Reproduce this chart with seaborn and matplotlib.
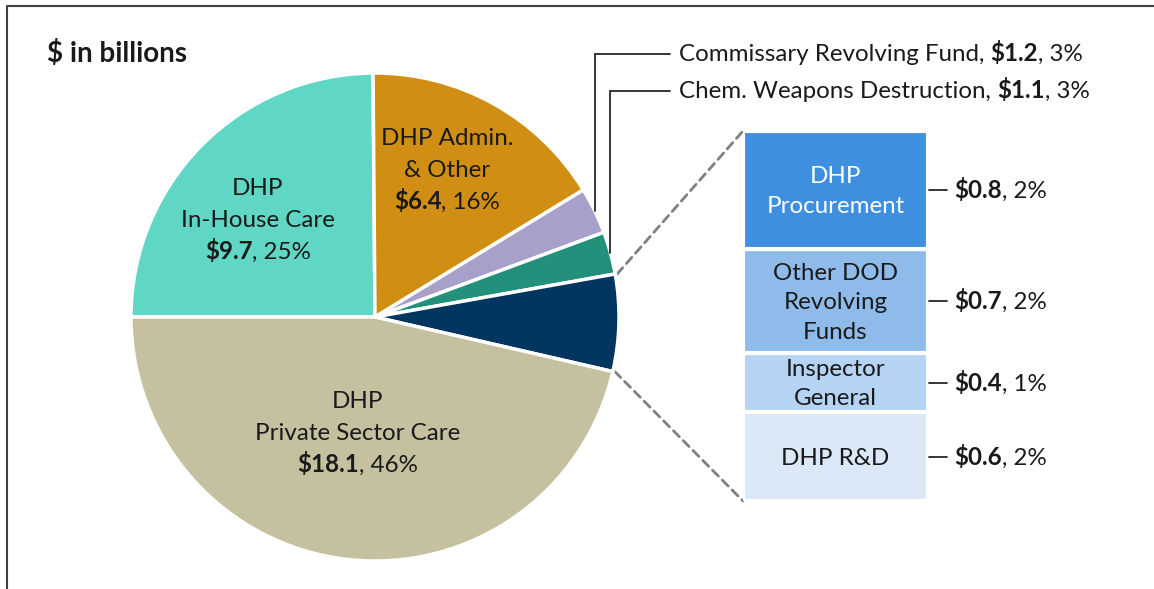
import numpy as np
import matplotlib
matplotlib.use("Agg")
import matplotlib.pyplot as plt
from matplotlib.patches import ConnectionPatch
import seaborn as sns

# Veriler ($ milyar)
pie_names = ['DHP\nIn-House Care', 'DHP Admin.\n& Other', 'Commissary Revolving Fund',
             'Chem. Weapons Destruction', 'Other', 'DHP\nPrivate Sector Care']
sub_names = ['DHP\nProcurement', 'Other DOD\nRevolving\nFunds', 'Inspector\nGeneral', 'DHP R&D']
sub_values = [0.8, 0.7, 0.4, 0.6]
pie_values = [9.7, 6.4, 1.2, 1.1, round(sum(sub_values), 1), 18.1]
total = sum(pie_values)

pie_colors = ['#60d7c5', '#d08f12', '#a89fca', '#22907b', '#02355f', '#c4c0a0']
sub_colors = ['#3f8fe0', '#8fbbeb', '#b5d3f3', '#dae8f8']
sub_text_colors = ['white', '#1a1a1a', '#1a1a1a', '#1a1a1a']

sns.set_style("white")
plt.rcParams['font.family'] = ['Lato', 'DejaVu Sans']
FS = 17.4
TXT = '#1a1a1a'

W, H = 1154, 589
fig = plt.figure(figsize=(W / 100, H / 100), dpi=100)
ax = fig.add_axes([0, 0, 1, 1])
ax.set_zorder(2)

# Pasta grafiği (y ekseni ters: açı arttıkça saat yönünde)
cx, cy, R = 375, 317, 244
wedges, _ = ax.pie(pie_values, colors=pie_colors, startangle=180, counterclock=True,
                   center=(cx, cy), radius=R,
                   wedgeprops=dict(edgecolor='white', linewidth=2.5))
ax.set_xlim(0, W)
ax.set_ylim(H, 0)
ax.set_aspect('equal')
ax.axis('off')

# Yığılmış çubuk (alt kırılım)
ax2 = fig.add_axes([743 / W, (H - 501) / H, 185 / W, 370 / H])
ax2.set_zorder(1)
bottoms = np.cumsum([0] + sub_values[::-1][:-1])
for v, b, c in zip(sub_values[::-1], bottoms, sub_colors[::-1]):
    ax2.bar(0, v, bottom=b, width=1, color=c, edgecolor='white', linewidth=3)
ax2.set_xlim(-0.5, 0.5)
ax2.set_ylim(0, sum(sub_values))
ax2.axis('off')

fig.canvas.draw()
rend = fig.canvas.get_renderer()


def to_main(a, xy):
    return ax.transData.inverted().transform(a.transData.transform(xy))


def value_line(x, y, val, pct, ha='center', color=TXT):
    # y = satırın taban çizgisi
    t1 = ax.text(x, y, f'${val:.1f}', fontsize=FS, fontweight='bold', color=color,
                 ha='left', va='baseline')
    t2 = ax.text(x, y, f', {pct:.0f}%', fontsize=FS, color=color, ha='left', va='baseline')
    w1 = t1.get_window_extent(rend).width
    w2 = t2.get_window_extent(rend).width
    x0 = x - (w1 + w2) / 2 if ha == 'center' else x
    t1.set_x(x0)
    t2.set_x(x0 + w1)


def block(x, yc, lines, gap, color=TXT):
    # yc = bloğun ortası; her satırın taban çizgisi hesaplanır
    n = len(lines)
    for i, s in enumerate(lines):
        y = yc + (i - (n - 1) / 2) * gap + 8
        ax.text(x, y, s, fontsize=FS, color=color, ha='center', va='baseline')


# Pasta etiketleri (isim satırları + değer satırı)
GAP = 32
for i, (xc, yc) in {0: (258, 219), 1: (447, 169), 5: (358, 432)}.items():
    lines = pie_names[i].split('\n')
    n = len(lines) + 1
    block(xc, yc - GAP / 2, lines, GAP)
    value_line(xc, yc + (n - 1) / 2 * GAP + 8, pie_values[i], 100 * pie_values[i] / total)

# Küçük dilimler için çağrı çizgileri
for i, ly in [(2, 54), (3, 91)]:
    w = wedges[i]
    mid = np.deg2rad((w.theta1 + w.theta2) / 2)
    px, py = cx + R * np.cos(mid), cy + R * np.sin(mid)
    ax.plot([px, px, 670], [py, ly, ly], color='#262626', lw=1.3, solid_joinstyle='miter')
    t = ax.text(679, ly + 7, pie_names[i] + ', ', fontsize=FS, color=TXT, ha='left', va='baseline')
    x_end = ax.transData.inverted().transform((t.get_window_extent(rend).x1, 0))[0]
    value_line(x_end, ly + 7, pie_values[i], 100 * pie_values[i] / total, ha='left')

# Kesik bağlantı çizgileri
w = wedges[4]
top_ang, bot_ang = np.deg2rad(w.theta1), np.deg2rad(w.theta2)
for ang, yb in [(top_ang, sum(sub_values)), (bot_ang, 0)]:
    con = ConnectionPatch(xyA=(cx + R * np.cos(ang) + 2, cy + R * np.sin(ang)), coordsA=ax.transData,
                          xyB=(-0.5, yb), coordsB=ax2.transData,
                          color='#808080', lw=2, linestyle=(0, (3, 2)))
    fig.add_artist(con)

# Çubuk etiketleri
for name, v, b, tc in zip(sub_names[::-1], sub_values[::-1], bottoms, sub_text_colors[::-1]):
    mx, my = to_main(ax2, (0, b + v / 2))
    block(mx, my, name.split('\n'), 29.5, color=tc)
    ax.plot([929, 947], [my, my], color='#262626', lw=1.3)
    value_line(954, my + 8, v, 100 * v / total, ha='left')

ax.text(47, 62, '$ in billions', fontsize=20, fontweight='bold', color=TXT, ha='left', va='baseline')

# Çerçeve
ax.plot([7, 7, W], [H + 5, 6, 6], color='#404040', lw=1.5, clip_on=False)

fig.savefig('out.png', dpi=100)
